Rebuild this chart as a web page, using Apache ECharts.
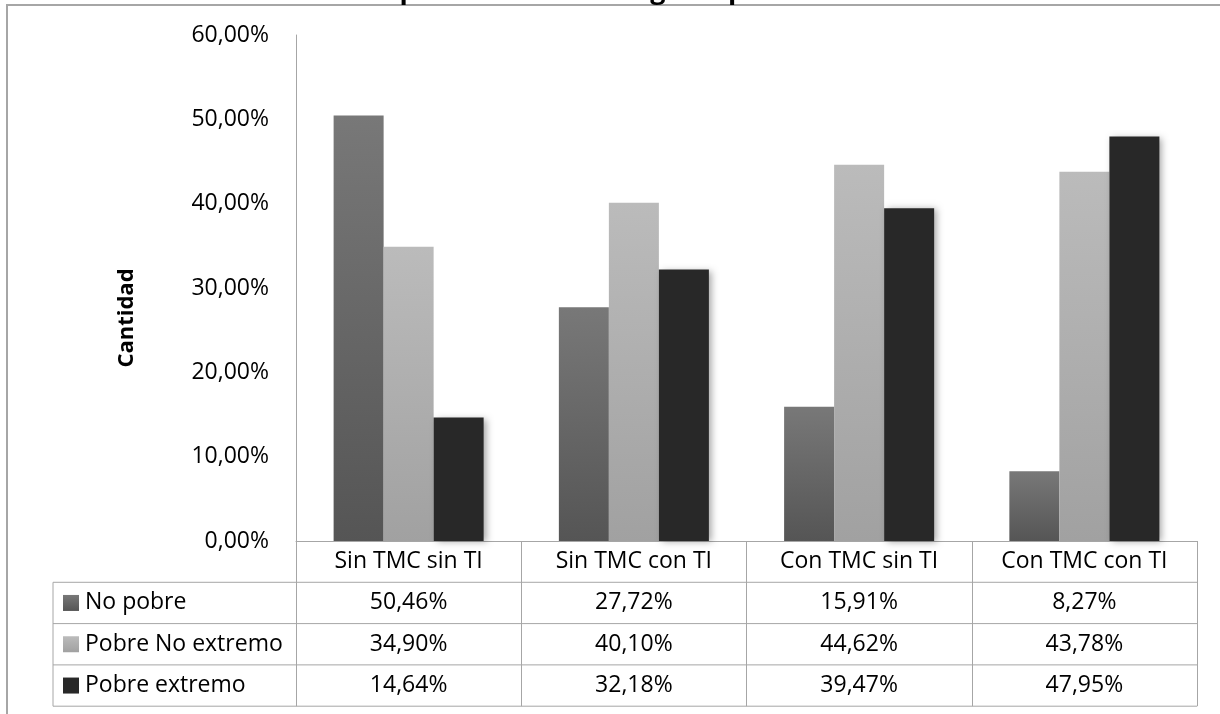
<!DOCTYPE html>
<html>
<head>
<meta charset="utf-8">
<script src="https://cdn.jsdelivr.net/npm/echarts@6/dist/echarts.min.js"></script>
<style>
  html, body { margin: 0; padding: 0; background: #ffffff; }
  #chart { width: 1220px; height: 714px; }
</style>
</head>
<body>
<div id="chart"></div>
<script>
// Categories (groups) and the three poverty conditions, in percent
const categories = ['Sin TMC sin TI', 'Sin TMC con TI', 'Con TMC sin TI', 'Con TMC con TI'];
const seriesNames = ['No pobre', 'Pobre No extremo', 'Pobre extremo'];
const noPobre = [50.46, 27.72, 15.91, 8.27];
const pobreNoExtremo = [34.90, 40.10, 44.62, 43.78];
const pobreExtremo = [14.64, 32.18, 39.47, 47.95];
const yTicks = [0, 10, 20, 30, 40, 50, 60];
const titleText = 'Situación de pobreza infantil según tipo de intervención';
const yAxisTitle = 'Cantidad';

const seriesValues = [noPobre, pobreNoExtremo, pobreExtremo];

const FONT = 'Open Sans';
const FONT_SIZE = 23;
const LINE = '#a6a6a6';
const ROW_H = 41.3;
const TABLE_LEFT = 53;
const GRID = { left: 296, right: 23, top: 35, bottom: 173 };

const pct = v => v.toFixed(2).replace('.', ',') + '%';

const fills = [
  new echarts.graphic.LinearGradient(0, 0, 0, 1, [
    { offset: 0, color: '#787878' }, { offset: 1, color: '#555555' }
  ]),
  new echarts.graphic.LinearGradient(0, 0, 0, 1, [
    { offset: 0, color: '#bbbbbb' }, { offset: 1, color: '#a1a1a1' }
  ]),
  '#282828'
];

const chart = echarts.init(document.getElementById('chart'), null, { renderer: 'canvas' });

const option = {
  animation: false,
  backgroundColor: '#ffffff',
  title: {
    text: titleText,
    left: 222,
    top: -27,
    textStyle: { fontFamily: FONT, fontSize: 27, fontWeight: 'bold', color: '#000000' }
  },
  grid: GRID,
  xAxis: {
    type: 'category',
    data: categories,
    axisLine: { show: true, lineStyle: { color: LINE, width: 1 } },
    axisTick: { show: true, length: ROW_H * 4, lineStyle: { color: LINE, width: 1 } },
    axisLabel: {
      margin: ROW_H / 2,
      verticalAlign: 'middle',
      fontFamily: FONT, fontSize: FONT_SIZE, color: '#000000'
    },
    splitLine: { show: false }
  },
  yAxis: {
    type: 'value',
    min: yTicks[0],
    max: yTicks[yTicks.length - 1],
    interval: yTicks[1] - yTicks[0],
    axisLine: { show: true, lineStyle: { color: LINE, width: 1 } },
    axisTick: { show: false },
    splitLine: { show: false },
    axisLabel: {
      margin: 27,
      formatter: v => pct(v),
      fontFamily: FONT, fontSize: FONT_SIZE, color: '#000000'
    }
  },
  series: seriesNames.map((name, i) => ({
    name,
    type: 'bar',
    data: seriesValues[i],
    barGap: '0%',
    barCategoryGap: '33.4%',
    itemStyle: {
      color: fills[i],
      shadowBlur: 7,
      shadowColor: 'rgba(0,0,0,0.35)',
      shadowOffsetX: 3,
      shadowOffsetY: 1
    }
  }))
};

chart.setOption(option);

// Data table under the plot, laid out from the axis scales
const xs = categories.map(c => chart.convertToPixel({ xAxisIndex: 0 }, c));
const yBase = chart.convertToPixel({ yAxisIndex: 0 }, 0);
const right = chart.getWidth() - GRID.right;
const g = [];

// outer frame of the chart area
g.push({
  type: 'rect', silent: true, z: 0,
  shape: { x: 7, y: 5, width: 1400, height: 900 },
  style: { fill: null, stroke: LINE, lineWidth: 2 }
});

// vertical axis title
g.push({
  type: 'text', silent: true,
  x: 127, y: 318, rotation: Math.PI / 2,
  style: {
    text: yAxisTitle, fill: '#000000',
    font: `bold 22px "${FONT}"`,
    align: 'center', verticalAlign: 'middle'
  }
});

for (let k = 1; k <= 4; k++) {
  g.push({
    type: 'line', silent: true,
    shape: { x1: TABLE_LEFT, y1: yBase + ROW_H * k, x2: right, y2: yBase + ROW_H * k },
    style: { stroke: LINE, lineWidth: 1 }
  });
}
g.push({
  type: 'line', silent: true,
  shape: { x1: TABLE_LEFT, y1: yBase + ROW_H, x2: TABLE_LEFT, y2: yBase + ROW_H * 4 },
  style: { stroke: LINE, lineWidth: 1 }
});

seriesNames.forEach((name, i) => {
  const cy = yBase + ROW_H * (i + 1.5);
  g.push({
    type: 'rect', silent: true,
    shape: { x: 63, y: cy - 8, width: 16, height: 16 },
    style: { fill: fills[i] }
  });
  g.push({
    type: 'text', silent: true,
    x: 85, y: cy,
    style: {
      text: name, fill: '#000000',
      font: `${FONT_SIZE}px "${FONT}"`,
      align: 'left', verticalAlign: 'middle'
    }
  });
  seriesValues[i].forEach((v, j) => {
    g.push({
      type: 'text', silent: true,
      x: xs[j], y: cy,
      style: {
        text: pct(v), fill: '#000000',
        font: `${FONT_SIZE}px "${FONT}"`,
        align: 'center', verticalAlign: 'middle'
      }
    });
  });
});

chart.setOption({ graphic: g });
</script>
</body>
</html>
